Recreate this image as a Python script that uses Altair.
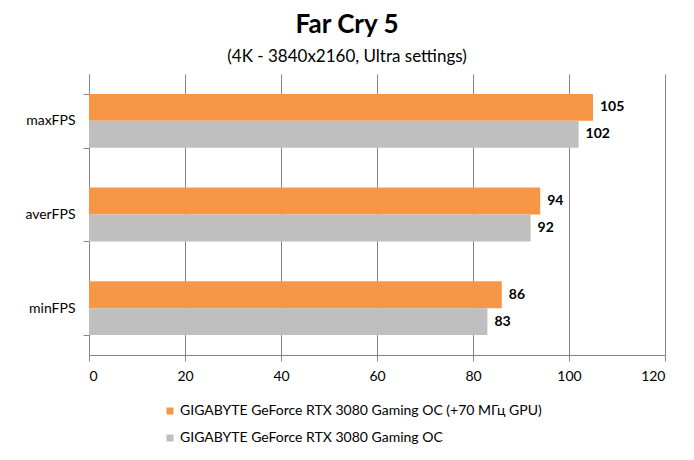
import altair as alt
import pandas as pd

# Values
metrics = ['maxFPS', 'averFPS', 'minFPS']
series = ['GIGABYTE GeForce RTX 3080 Gaming OC (+70 МГц GPU)', 'GIGABYTE GeForce RTX 3080 Gaming OC']
oc_fps = [105, 94, 86]
stock_fps = [102, 92, 83]
colors = ['#F79646', '#BFBFBF']
x_ticks = [0, 20, 40, 60, 80, 100, 120]

rows = []
for i, m in enumerate(metrics):
    rows.append({'metric': m, 'card': series[0], 'fps': oc_fps[i]})
    rows.append({'metric': m, 'card': series[1], 'fps': stock_fps[i]})
data = pd.DataFrame(rows)

FONT = 'Lato'
GRID = '#868686'

base = alt.Chart(data).encode(
    y=alt.Y('metric:N', sort=metrics, title=None,
            scale=alt.Scale(paddingInner=0.425, paddingOuter=0.2125),
            axis=alt.Axis(tickBand='extent', grid=False, domainColor=GRID, tickColor=GRID,
                          tickSize=6, labelPadding=8, labelFont=FONT, labelFontSize=14,
                          labelColor='black')),
    yOffset=alt.YOffset('card:N', sort=series, scale=alt.Scale(paddingInner=0, paddingOuter=0)),
    x=alt.X('fps:Q', title=None, scale=alt.Scale(domain=[0, 120], nice=False),
            axis=alt.Axis(values=x_ticks, grid=True, gridColor=GRID, domainColor=GRID,
                          tickColor=GRID, tickSize=6, labelPadding=8, labelFont=FONT,
                          labelFontSize=14, labelColor='black')),
)

bars = base.mark_bar().encode(
    color=alt.Color('card:N', sort=series,
                    scale=alt.Scale(domain=series, range=colors),
                    legend=alt.Legend(title=None, orient='none', legendX=74, legendY=330,
                                      direction='vertical', symbolType='square', symbolSize=49,
                                      symbolStrokeWidth=0, labelFont=FONT, labelFontSize=14,
                                      labelColor='black', rowPadding=13, labelOffset=3,
                                      labelLimit=500))
)

labels = base.mark_text(align='left', dx=7, font=FONT, fontSize=14, fontWeight='bold',
                        color='black').encode(text='fps:Q')

chart = alt.layer(bars, labels).properties(
    width=576,
    height=281,
    padding={'left': 81, 'top': 66, 'right': 21, 'bottom': 97},
    autosize=alt.AutoSizeParams(type='none'),
    title=alt.TitleParams(text='Far Cry 5', subtitle='(4K - 3840x2160, Ultra settings)',
                          font=FONT, fontSize=26, fontWeight='bold', color='black',
                          subtitleFont=FONT, subtitleFontSize=17, subtitleColor='black',
                          anchor='middle', dx=-30, offset=2, subtitlePadding=11),
).configure_view(stroke='transparent')

chart.save('out.html', embed_options={'renderer': 'svg', 'actions': False})
